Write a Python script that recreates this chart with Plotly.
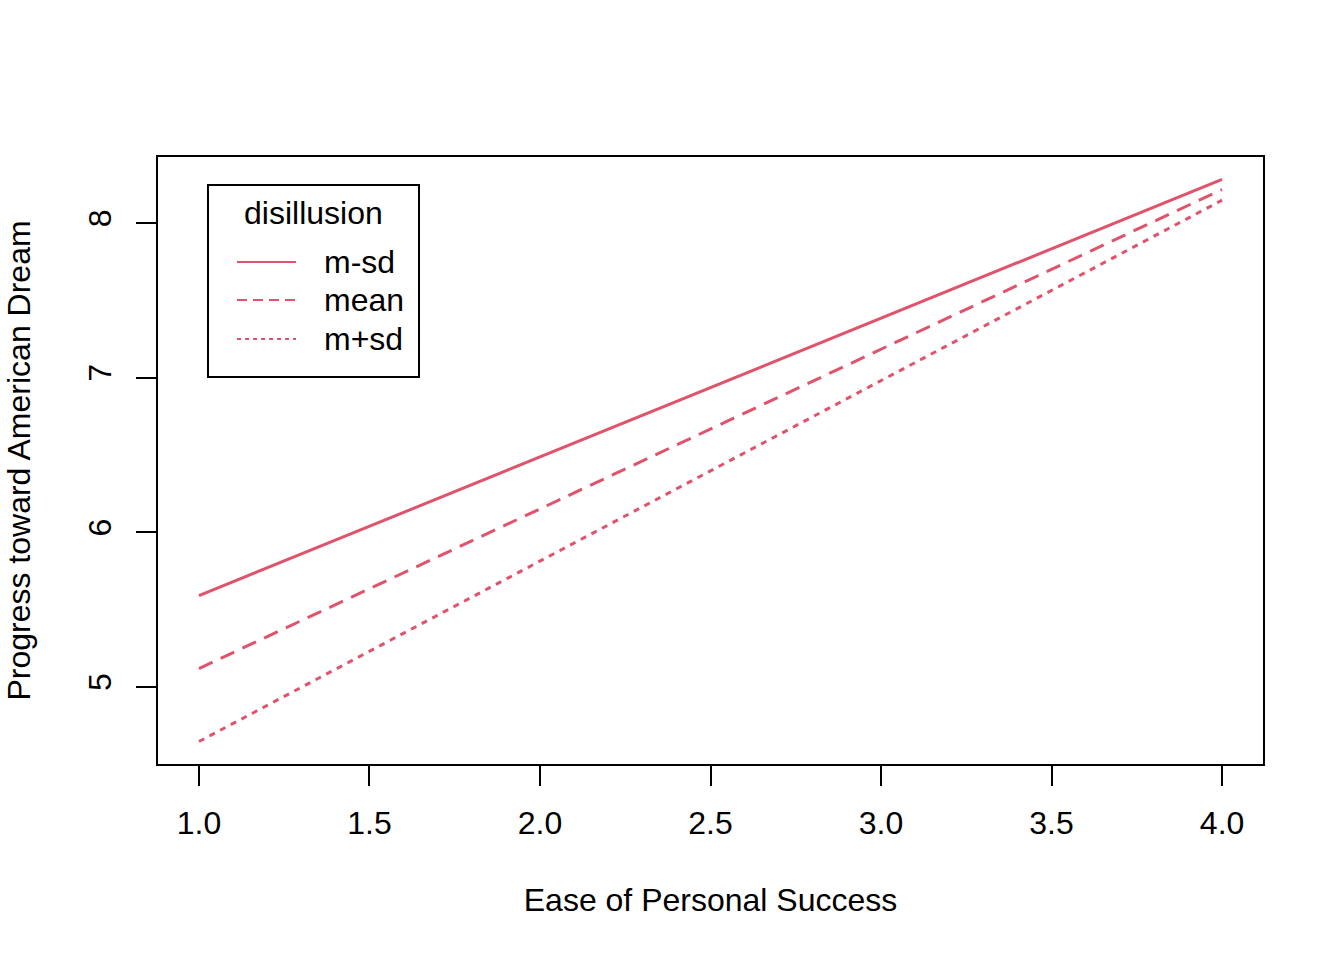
import plotly.graph_objects as go

# Data
x_vals = [1.0, 4.0]
series_names = ["m-sd", "mean", "m+sd"]
y_msd = [5.59, 8.283]
y_mean = [5.118, 8.218]
y_mpsd = [4.646, 8.149]
x_ticks = [1.0, 1.5, 2.0, 2.5, 3.0, 3.5, 4.0]
x_tick_labels = ["1.0", "1.5", "2.0", "2.5", "3.0", "3.5", "4.0"]
y_ticks = [5, 6, 7, 8]
y_tick_labels = ["5", "6", "7", "8"]

COLOR = "#DF536B"
FONT = "Liberation Sans, Arial, Helvetica, sans-serif"
FS = 32
W, H = 1344, 960
L, R, T, B = 158, 81, 157, 196
PW, PH = W - L - R, H - T - B

def px(xp):
    return (xp - L) / PW

def py(yp):
    return (H - B - yp) / PH

dashes = ["solid", "15px,9px", "6px,6px"]
legend_dashes = ["solid", "10px,6px", "4px,4px"]
ys = [y_msd, y_mean, y_mpsd]

fig = go.Figure()
for name, yv, d in zip(series_names, ys, dashes):
    fig.add_trace(go.Scatter(x=x_vals, y=yv, mode="lines", name=name,
                             line=dict(color=COLOR, width=3, dash=d),
                             showlegend=False, hoverinfo="skip"))

allv = y_msd + y_mean + y_mpsd
ymin, ymax = min(allv), max(allv)
ypad = 0.04 * (ymax - ymin)
xpad = 0.04 * (max(x_vals) - min(x_vals))

shapes = []
annotations = []
# legend box
shapes.append(dict(type="rect", xref="paper", yref="paper",
                   x0=px(208), x1=px(419), y0=py(377), y1=py(185),
                   line=dict(color="black", width=2), fillcolor="white", layer="above"))
annotations.append(dict(text="disillusion", xref="paper", yref="paper",
                        x=px(313), y=py(213), showarrow=False,
                        xanchor="center", yanchor="middle",
                        font=dict(size=FS, color="black", family=FONT)))
for i, (name, d) in enumerate(zip(series_names, legend_dashes)):
    yy = [262, 300, 339][i]
    shapes.append(dict(type="line", xref="paper", yref="paper",
                       x0=px(237), x1=px(296), y0=py(yy), y1=py(yy),
                       line=dict(color=COLOR, width=2, dash=d), layer="above"))
    annotations.append(dict(text=name, xref="paper", yref="paper",
                            x=px(322), y=py(yy), showarrow=False,
                            xanchor="left", yanchor="middle",
                            font=dict(size=FS, color="black", family=FONT)))

fig.update_layout(
    width=W, height=H,
    margin=dict(l=L, r=R, t=T, b=B, pad=0),
    paper_bgcolor="white", plot_bgcolor="white",
    font=dict(family=FONT, size=FS, color="black"),
    shapes=shapes, annotations=annotations,
    showlegend=False,
    xaxis=dict(range=[min(x_vals) - xpad, max(x_vals) + xpad],
               tickvals=x_ticks, ticktext=x_tick_labels,
               ticks="outside", ticklen=20, tickwidth=2, tickcolor="black",
               showline=True, linecolor="black", linewidth=2, mirror=True,
               showgrid=False, zeroline=False, ticklabelstandoff=10,
               tickfont=dict(size=FS, family=FONT),
               title=dict(text="Ease of Personal Success", standoff=48,
                          font=dict(size=FS, family=FONT))),
    yaxis=dict(range=[ymin - ypad, ymax + ypad],
               tickvals=y_ticks, ticktext=y_tick_labels, tickangle=-90,
               ticks="outside", ticklen=20, tickwidth=2, tickcolor="black",
               showline=True, linecolor="black", linewidth=2, mirror=True,
               showgrid=False, zeroline=False, ticklabelstandoff=12,
               tickfont=dict(size=FS, family=FONT),
               title=dict(text="Progress toward American Dream", standoff=42,
                          font=dict(size=FS, family=FONT))),
)

fig.write_html("out.html", config={"displayModeBar": False})
with open("out.html", "r", encoding="utf-8") as f:
    html = f.read()
html = html.replace("<head>", "<head><style>html,body{margin:0;padding:0;}</style>", 1)
with open("out.html", "w", encoding="utf-8") as f:
    f.write(html)
